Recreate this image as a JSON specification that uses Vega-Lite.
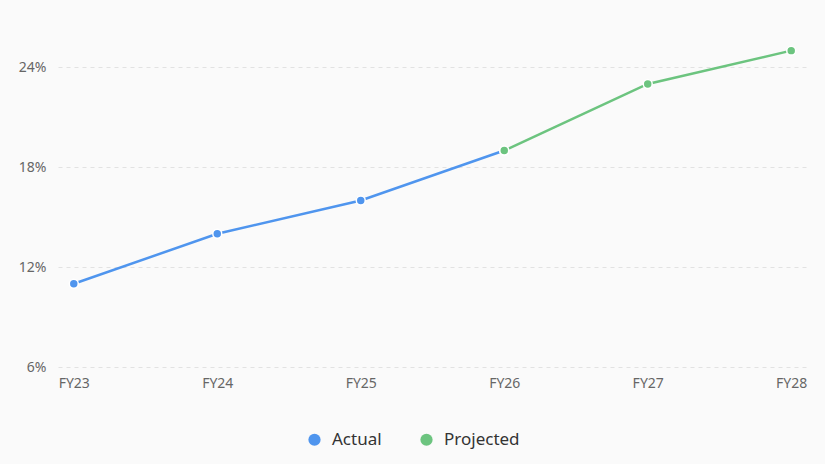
{
  "$schema": "https://vega.github.io/schema/vega-lite/v6.json",
  "autosize": "none",
  "width": 749,
  "height": 333,
  "padding": {"left": 58, "top": 34, "right": 18, "bottom": 97},
  "background": "#fafafa",
  "data": {
    "values": [
      {"year": "FY23", "rate": 11, "series": "Actual"},
      {"year": "FY24", "rate": 14, "series": "Actual"},
      {"year": "FY25", "rate": 16, "series": "Actual"},
      {"year": "FY26", "rate": 19, "series": "Actual"},
      {"year": "FY26", "rate": 19, "series": "Projected"},
      {"year": "FY27", "rate": 23, "series": "Projected"},
      {"year": "FY28", "rate": 25, "series": "Projected"}
    ]
  },
  "encoding": {
    "x": {
      "field": "year",
      "type": "ordinal",
      "scale": {"type": "point", "padding": 0.11},
      "axis": {
        "title": null,
        "labelAngle": 0,
        "ticks": false,
        "domain": false,
        "grid": false,
        "labelPadding": 9
      }
    },
    "y": {
      "field": "rate",
      "type": "quantitative",
      "scale": {"domain": [6, 26], "nice": false, "zero": false},
      "axis": {
        "title": null,
        "values": [6, 12, 18, 24],
        "labelExpr": "datum.value + '%'",
        "ticks": false,
        "domain": false,
        "labelPadding": 12,
        "gridDash": [4, 4],
        "gridColor": "#e2e2e2"
      }
    },
    "color": {
      "field": "series",
      "type": "nominal",
      "scale": {"domain": ["Actual", "Projected"], "range": ["#4f95ee", "#6cc47f"]},
      "legend": {
        "title": null,
        "orient": "none",
        "direction": "horizontal",
        "legendX": 248,
        "legendY": 397,
        "symbolType": "circle",
        "symbolSize": 150,
        "symbolStrokeWidth": 0,
        "labelFontSize": 17,
        "labelColor": "#333333",
        "columnPadding": 36,
        "labelOffset": 9
      }
    }
  },
  "layer": [
    {
      "mark": {"type": "line", "strokeWidth": 2.5}
    },
    {
      "mark": {"type": "point", "filled": true, "size": 80, "opacity": 1, "stroke": "#ffffff", "strokeWidth": 1.5}
    }
  ],
  "config": {
    "font": "Noto Sans",
    "view": {"stroke": null},
    "axis": {"labelFontSize": 14, "labelColor": "#666666", "labelFont": "Noto Sans"},
    "legend": {"labelFont": "Noto Sans"}
  }
}
